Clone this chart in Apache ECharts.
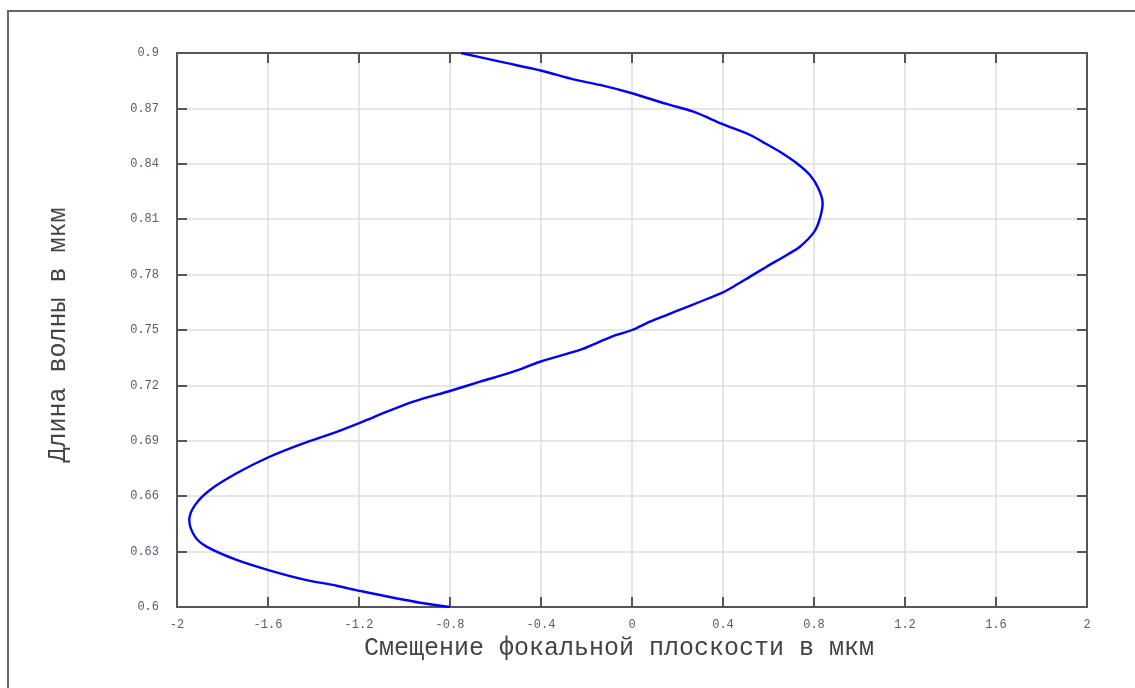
<!DOCTYPE html>
<html>
<head>
<meta charset="utf-8">
<script src="https://cdn.jsdelivr.net/npm/echarts@6/dist/echarts.min.js"></script>
<style>
html,body{margin:0;padding:0;background:#fff;}
#chart{width:1135px;height:688px;}
</style>
</head>
<body>
<div id="chart"></div>
<script>
// Wavelength, µm (y axis)
var wavelength = [
  0.6000, 0.6023, 0.6087, 0.6115, 0.6150, 0.6200, 0.6255, 0.6327, 0.6381, 0.6471,
  0.6552, 0.6634, 0.6724, 0.6811, 0.6886, 0.6949, 0.7013, 0.7040, 0.7112, 0.7171,
  0.7220, 0.7274, 0.7328, 0.7392, 0.7437, 0.7473, 0.7500, 0.7545, 0.7581, 0.7617,
  0.7653, 0.7704, 0.7734, 0.7789, 0.7843, 0.7906, 0.7951, 0.8030, 0.8096, 0.8186,
  0.8267, 0.8339, 0.8403, 0.8465, 0.8520, 0.8556, 0.8615, 0.8682, 0.8724, 0.8782,
  0.8827, 0.8857, 0.8904, 0.8953, 0.9000
];
// Focal plane shift, µm (x axis)
var shift = [
  -0.800, -0.932, -1.196, -1.298, -1.445, -1.598, -1.738, -1.870, -1.921, -1.946,
  -1.921, -1.855, -1.738, -1.598, -1.445, -1.298, -1.165, -1.112, -0.961, -0.797,
  -0.668, -0.522, -0.404, -0.229, -0.141, -0.068, 0.000, 0.079, 0.152, 0.226,
  0.299, 0.400, 0.445, 0.519, 0.592, 0.680, 0.738, 0.800, 0.824, 0.838,
  0.819, 0.782, 0.724, 0.650, 0.572, 0.519, 0.398, 0.270, 0.152, 0.000,
  -0.141, -0.257, -0.397, -0.580, -0.752
];
var xTitle = 'Смещение фокальной плоскости в мкм';
var yTitle = 'Длина волны в мкм';

var points = wavelength.map(function (w, i) { return [shift[i], w]; });

var chart = echarts.init(document.getElementById('chart'), null, {renderer: 'canvas'});
var axisColor = '#555555';
var gridColor = '#dedede';
var labelStyle = {fontFamily: 'Liberation Mono', fontSize: 12, color: '#5a5a6e'};

chart.setOption({
  animation: false,
  backgroundColor: '#ffffff',
  grid: {left: 177, top: 53, right: 48, bottom: 81, containLabel: false},
  graphic: [{
    type: 'rect',
    shape: {x: 8, y: 11, width: 1140, height: 700},
    style: {fill: 'none', stroke: '#666666', lineWidth: 2},
    silent: true
  }],
  xAxis: [{
    type: 'value', min: -2, max: 2, interval: 0.4, position: 'bottom',
    name: xTitle, nameLocation: 'middle', nameGap: 28,
    nameTextStyle: {fontFamily: 'Liberation Mono', fontSize: 25, color: '#444444', padding: [0, 26, 0, 0]},
    axisLine: {show: true, onZero: false, lineStyle: {color: axisColor, width: 2}},
    axisTick: {show: true, inside: true, length: 10, lineStyle: {color: axisColor, width: 2}},
    axisLabel: Object.assign({margin: 12}, labelStyle),
    splitLine: {show: true, lineStyle: {color: gridColor, width: 1.5}}
  }, {
    type: 'value', min: -2, max: 2, interval: 0.4, position: 'top',
    axisLine: {show: true, onZero: false, lineStyle: {color: axisColor, width: 2}},
    axisTick: {show: true, inside: true, length: 10, lineStyle: {color: axisColor, width: 2}},
    axisLabel: {show: false},
    splitLine: {show: false}
  }],
  yAxis: [{
    type: 'value', min: 0.6, max: 0.9, interval: 0.03, position: 'left',
    name: yTitle, nameLocation: 'middle', nameGap: 106, nameRotate: 90,
    nameTextStyle: {fontFamily: 'Liberation Mono', fontSize: 25, color: '#444444', padding: [0, 10, 0, 0]},
    axisLine: {show: true, onZero: false, lineStyle: {color: axisColor, width: 2}},
    axisTick: {show: true, inside: true, length: 10, lineStyle: {color: axisColor, width: 2}},
    axisLabel: Object.assign({margin: 18}, labelStyle),
    splitLine: {show: true, lineStyle: {color: gridColor, width: 1.5}}
  }, {
    type: 'value', min: 0.6, max: 0.9, interval: 0.03, position: 'right',
    axisLine: {show: true, onZero: false, lineStyle: {color: axisColor, width: 2}},
    axisTick: {show: true, inside: true, length: 10, lineStyle: {color: axisColor, width: 2}},
    axisLabel: {show: false},
    splitLine: {show: false}
  }],
  series: [{
    type: 'line',
    xAxisIndex: 0, yAxisIndex: 0,
    data: points,
    smooth: 0.3,
    showSymbol: false,
    symbol: 'none',
    lineStyle: {color: '#0000ff', width: 2.4},
    z: 5
  }]
});
</script>
</body>
</html>
